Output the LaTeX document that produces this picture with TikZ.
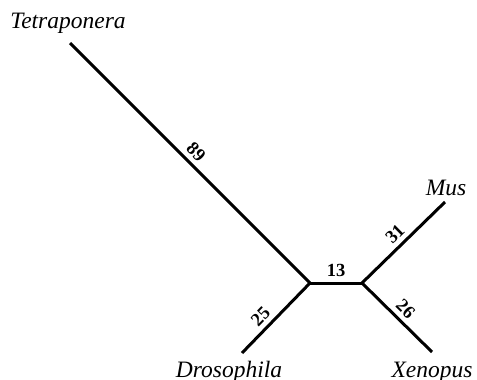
\documentclass[tikz,border=0pt]{standalone}
\usepackage{fontspec}
\setmainfont{Liberation Serif}
\begin{document}
\begin{tikzpicture}[x=1pt,y=-1pt,line cap=butt,line join=miter,
  branch/.style={line width=3pt},
  taxon/.style={anchor=base,inner sep=0pt,font=\itshape\fontsize{23.5}{26}\selectfont},
  blen/.style={sloped,above,inner sep=4.5pt,font=\bfseries\fontsize{18.5}{20}\selectfont}]
\useasboundingbox (0,0) rectangle (477,380);
% tips and inner nodes
\coordinate (tet) at (70,43);
\coordinate (dro) at (242,353);
\coordinate (mus) at (445,202);
\coordinate (xen) at (432,352);
\coordinate (ul) at (310,283);
\coordinate (ur) at (362,283);
% branches
\draw[branch] (tet) -- node[blen,pos=0.49] {89} (ul);
\draw[branch] (ul) -- node[blen,pos=0.6] {25} (dro);
\draw[branch] (ul) -- node[blen,pos=0.5] {13} (ur);
\draw[branch] (ur) -- node[blen,pos=0.5] {31} (mus);
\draw[branch] (ur) -- node[blen,pos=0.5] {26} (xen);
% names
\node[taxon] (tetname) at (68,28) {Tetraponera};
\node[taxon] (droname) at (229,377) {Drosophila};
\node[taxon] (musname) at (446,195) {Mus};
\node[taxon] (xenname) at (432,377) {Xenopus};
\end{tikzpicture}
\end{document}
